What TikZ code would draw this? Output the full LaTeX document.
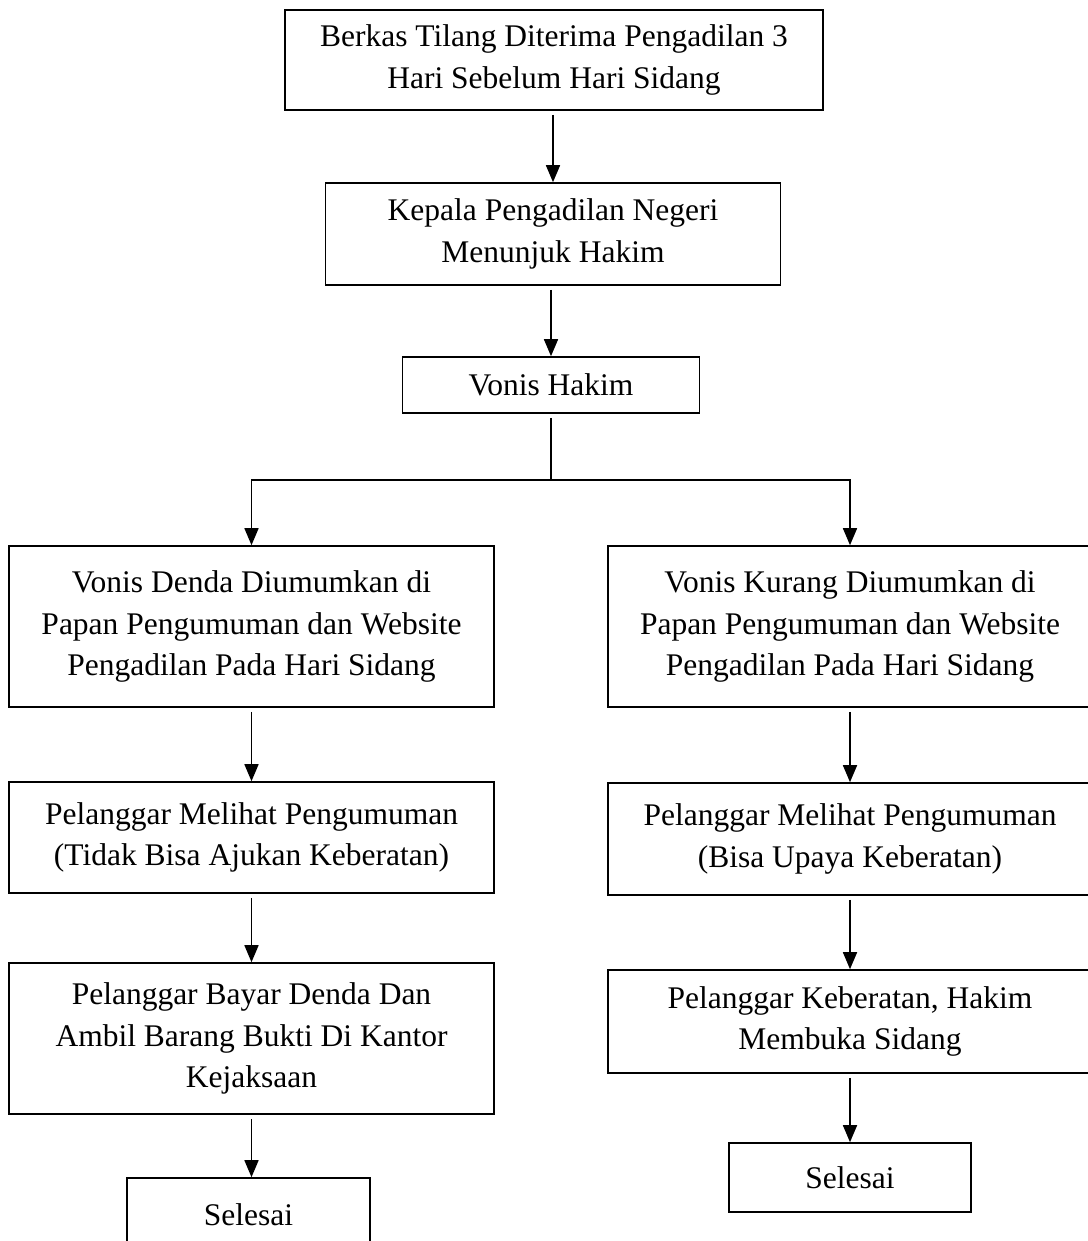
\documentclass[tikz,border=0pt]{standalone}
\usepackage{fontspec}
\setmainfont{Liberation Serif}
\usetikzlibrary{arrows.meta}

\tikzset{
  kotak/.style={draw, line width=1.6pt, align=center, inner sep=0pt,
    font=\fontsize{31.5}{41.5}\selectfont},
  garis/.style={line width=1.6pt},
  panah/.style={line width=1.6pt, -{Triangle[length=17pt,width=14pt]}, shorten <=4pt}
}

\begin{document}
\begin{tikzpicture}[x=1pt, y=-1pt]
  \useasboundingbox (0,0) rectangle (1087,1241);
  % kolom tengah
  \node[kotak, minimum width=538, minimum height=100] (berkas) at (554,60)
    {Berkas Tilang Diterima Pengadilan 3\\Hari Sebelum Hari Sidang};
  \node[kotak, minimum width=455, minimum height=102] (kepala) at (553,234)
    {Kepala Pengadilan Negeri\\Menunjuk Hakim};
  \node[kotak, minimum width=297, minimum height=56] (vonis) at (551,385) {Vonis Hakim};
  \coordinate (cabang) at (551,480);

  % kiri
  \node[kotak, minimum width=485, minimum height=161] (denda) at (251.5,626.5)
    {Vonis Denda Diumumkan di\\Papan Pengumuman dan Website\\Pengadilan Pada Hari Sidang};
  \node[kotak, minimum width=485, minimum height=111] (lihatA) at (251.5,837.5)
    {Pelanggar Melihat Pengumuman\\(Tidak Bisa Ajukan Keberatan)};
  \node[kotak, minimum width=485, minimum height=151] (bayar) at (251.5,1038.5)
    {Pelanggar Bayar Denda Dan\\Ambil Barang Bukti Di Kantor\\Kejaksaan};
  \node[kotak, minimum width=243, minimum height=74] (selesaiA) at (248.5,1215) {Selesai};

  % kanan
  \node[kotak, minimum width=484, minimum height=161] (kurang) at (850,626.5)
    {Vonis Kurang Diumumkan di\\Papan Pengumuman dan Website\\Pengadilan Pada Hari Sidang};
  \node[kotak, minimum width=484, minimum height=112] (lihatB) at (850,839)
    {Pelanggar Melihat Pengumuman\\(Bisa Upaya Keberatan)};
  \node[kotak, minimum width=484, minimum height=103] (keberatan) at (850,1021.5)
    {Pelanggar Keberatan, Hakim\\Membuka Sidang};
  \node[kotak, minimum width=242, minimum height=69] (selesaiB) at (850,1177.5) {Selesai};

  % panah
  \draw[panah] (berkas.south -| kepala.north) -- (kepala.north);
  \draw[panah] (kepala.south -| vonis.north) -- (vonis.north);
  \draw[garis, shorten <=4pt] (vonis.south) -- (cabang);
  \draw[panah, shorten <=0pt] (cabang) -| (denda.north);
  \draw[panah, shorten <=0pt] (cabang) -| (kurang.north);
  \draw[panah] (denda) -- (lihatA);
  \draw[panah] (lihatA) -- (bayar);
  \draw[panah] (bayar.south) -- (bayar.south |- selesaiA.north);
  \draw[panah] (kurang) -- (lihatB);
  \draw[panah] (lihatB) -- (keberatan);
  \draw[panah] (keberatan) -- (selesaiB);
\end{tikzpicture}
\end{document}
